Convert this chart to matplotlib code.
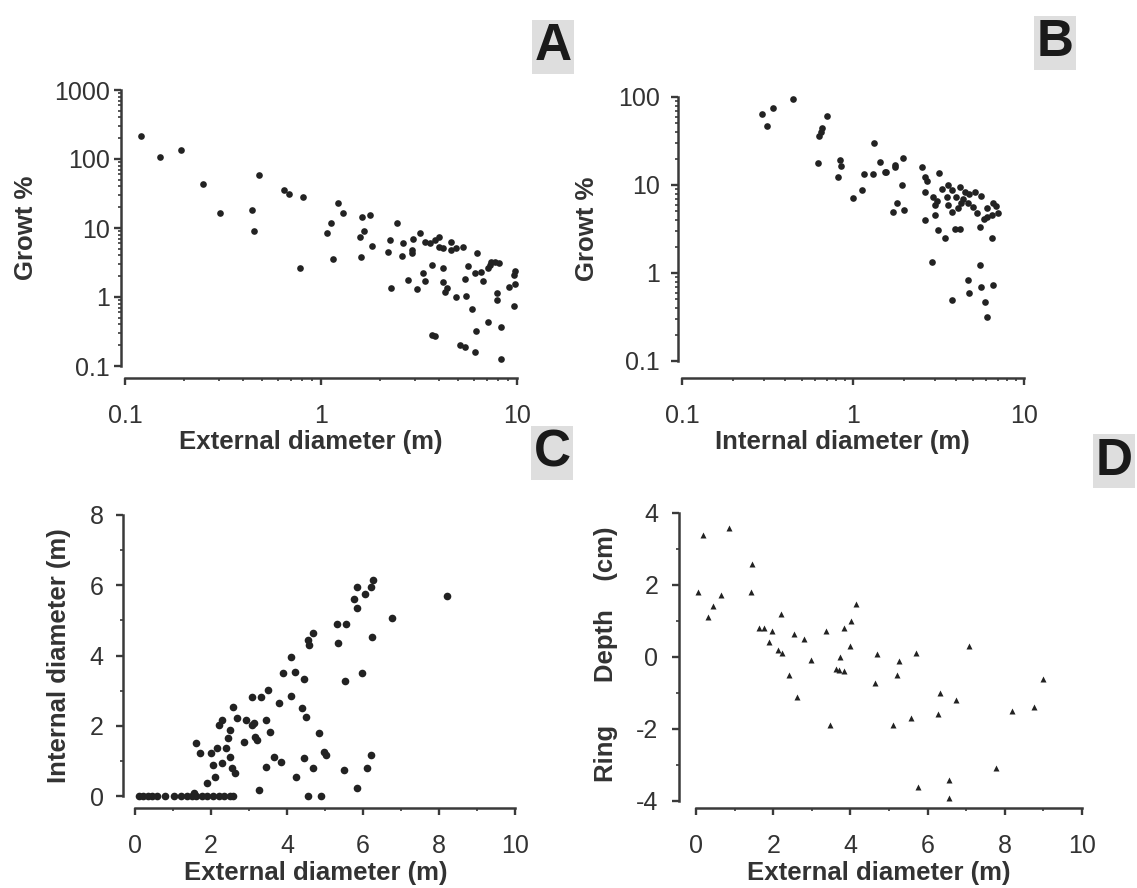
import matplotlib
matplotlib.use("Agg")
from matplotlib import pyplot as plt
from matplotlib import ticker
import numpy as np

plt.rcParams['font.family'] = ['Liberation Sans', 'DejaVu Sans']
plt.rcParams['axes.unicode_minus'] = False

# panel A: growth vs external diameter (log-log)
a_ext = [0.12, 0.151, 0.192, 0.251, 0.304, 0.447, 0.455, 0.481, 0.647, 0.69, 0.81, 0.78,
         1.22, 1.29, 1.12, 1.07, 1.15, 1.61, 1.78, 1.66, 1.58, 1.83, 1.6, 2.45, 2.25, 2.2,
         2.27, 2.62, 2.58, 2.95, 2.9, 2.92, 2.78, 3.1, 3.2, 3.4, 3.6, 3.8, 4.0, 4.0, 4.2,
         4.6, 4.6, 4.9, 5.3, 6.25, 3.3, 3.4, 3.7, 4.2, 4.2, 4.4, 4.3, 4.9, 5.5, 5.4, 5.6,
         5.9, 6.1, 6.2, 3.7, 3.8, 5.1, 5.4, 6.1, 6.55, 6.7, 7.1, 7.1, 7.4, 7.7, 7.95, 7.95,
         8.1, 8.3, 8.25, 9.1, 9.6, 9.8, 9.8, 9.6, 7.3]
a_growth = [215, 108, 135, 43, 16.7, 18.2, 8.9, 58.6, 36, 31.6, 28.4, 2.6,
            23, 16.5, 11.8, 8.5, 3.55, 14.5, 15.5, 9.1, 7.4, 5.5, 3.8, 11.8, 6.7, 4.5,
            1.35, 6.1, 3.9, 6.9, 4.8, 4.4, 1.76, 1.3, 8.5, 6.3, 6.1, 6.7, 7.4, 5.3, 5.1,
            6.3, 4.8, 5.1, 5.3, 4.4, 2.2, 1.7, 2.9, 2.6, 1.65, 1.35, 1.2, 1.0, 1.03, 1.8, 2.8,
            0.68, 2.2, 0.32, 0.28, 0.27, 0.2, 0.19, 0.16, 2.3, 1.68, 0.44, 2.6, 3.25, 3.25, 0.9, 1.16,
            3.1, 0.126, 0.37, 1.41, 0.74, 1.55, 2.4, 2.1, 2.9]

# panel B: growth vs internal diameter (log-log)
b_int = [0.292, 0.314, 0.34, 0.443, 0.708, 0.625, 0.635, 0.65, 0.66, 0.836, 0.85, 0.815,
         1.0, 1.13, 1.16, 1.31, 1.33, 1.43, 1.56, 1.77,
         1.96, 1.76, 1.54, 1.94, 1.81, 1.71, 2.0, 2.54, 2.64, 2.7, 3.18, 2.64, 2.64, 2.94,
         3.0, 3.0, 3.14, 2.9, 3.45, 3.6, 3.8, 4.2, 3.55, 4.0, 4.5, 4.8, 5.2, 3.6, 4.3, 4.7,
         5.0, 3.8, 5.3, 5.5, 3.95, 4.2, 6.1, 6.5, 6.6, 6.1, 6.5, 5.5, 4.7, 4.8, 3.8, 5.6,
         6.6, 5.9, 6.1, 3.3, 4.4, 5.6, 3.1, 4.1, 5.8, 6.9, 7.0]
b_growth = [64.6, 47, 75, 95, 61, 17.7, 35.6, 40.5, 44, 19.3, 16.6, 12.2,
            7.2, 8.8, 13.3, 13.3, 29.9, 18.2, 13.9, 16.2,
            20.3, 16.9, 14.1, 10, 6.2, 4.9, 5.2, 15.9, 12.3, 11, 13.7, 8.3, 4.0, 7.3,
            5.9, 4.6, 3.1, 1.33, 2.5, 10, 8.8, 9.6, 7.3, 7.3, 8.3, 8.0, 8.3, 5.9, 6.2, 6.2,
            5.6, 4.9, 4.8, 3.3, 3.2, 3.2, 5.5, 4.6, 6.2, 4.3, 2.5, 1.23, 0.83, 0.59, 0.49, 0.69,
            0.73, 0.47, 0.32, 9.0, 7.0, 7.5, 6.5, 5.5, 4.1, 5.8, 4.8]

# panel C: internal vs external diameter
c_ext = [0.1, 0.22, 0.34, 0.46, 0.59, 0.78, 1.02, 1.22, 1.37, 1.51, 1.61, 1.76, 1.9, 2.05,
         2.2, 2.34, 2.49, 2.59, 1.56, 4.54, 4.9, 3.27, 5.83, 1.9, 2.1, 4.24, 2.05, 2.29,
         2.54, 2.63, 3.46, 3.66, 3.85, 4.44, 4.68, 5.02, 4.98, 5.51, 6.1, 6.2, 1.61, 1.71,
         2.0, 2.15, 2.39, 2.49, 2.44, 2.49, 2.2, 2.29, 2.59, 2.68, 2.88, 2.93, 3.07, 3.17,
         3.22, 3.12, 3.07, 3.32, 3.46, 3.51, 3.56, 3.8, 3.9, 4.2, 4.1, 4.1, 4.39, 4.49,
         4.44, 4.85, 4.54, 4.59, 4.68, 5.35, 5.32, 5.56, 5.53, 5.76, 5.85, 5.85, 6.05, 6.2,
         6.27, 5.98, 6.24, 6.75, 8.21]
c_int = [0, 0, 0, 0, 0, 0, 0, 0, 0, 0, 0, 0, 0, 0,
         0, 0, 0, 0, 0.08, 0, 0, 0.17, 0.22, 0.36, 0.53, 0.53, 0.88, 0.93,
         0.79, 0.65, 0.83, 1.12, 0.98, 1.07, 0.79, 1.17, 1.26, 0.74, 0.79, 1.17, 1.5, 1.21,
         1.21, 1.36, 1.36, 1.12, 1.64, 1.88, 2.02, 2.16, 2.54, 2.21, 1.55, 2.16, 2.02, 1.69,
         1.59, 2.07, 2.83, 2.83, 2.16, 3.02, 1.83, 2.64, 3.49, 3.54, 3.97, 2.85, 2.5, 2.26,
         3.32, 1.8, 4.44, 4.3, 4.63, 4.36, 4.91, 4.91, 3.28, 5.6, 5.34, 5.96, 5.75, 5.96,
         6.15, 3.49, 4.54, 5.06, 5.7]

# panel D: ring depth vs external diameter
d_ext = [0.04, 0.17, 0.31, 0.45, 0.66, 0.85, 1.46, 1.43, 1.62, 1.75, 1.97, 1.89, 2.19, 2.13,
         2.23, 2.42, 2.53, 2.61, 2.8, 2.99, 3.36, 3.47, 3.62, 3.71, 3.84, 3.73, 3.84, 4.02,
         4.0, 4.15, 4.63, 4.7, 5.1, 5.2, 5.25, 5.57, 5.71, 5.76, 6.26, 6.32, 6.55, 6.55,
         6.74, 7.08, 7.77, 8.18, 8.75, 8.99]
d_depth = [1.81, 3.4, 1.11, 1.41, 1.71, 3.59, 2.59, 1.81, 0.81, 0.81, 0.72, 0.42, 1.2, 0.19,
           0.11, -0.51, 0.63, -1.11, 0.51, -0.09, 0.72, -1.9, -0.32, -0.37, -0.4, 0.0, 0.81, 1.0,
           0.3, 1.48, -0.71, 0.09, -1.9, -0.51, -0.11, -1.69, 0.11, -3.61, -1.59, -1.0, -3.41, -3.92,
           -1.2, 0.3, -3.07, -1.5, -1.39, -0.6]

log_ticks_a = [0.1, 1, 10, 100, 1000]
log_ticks_b = [0.1, 1, 10, 100]
log_labels_a = ['0.1', '1', '10', '100', '1000']
log_labels_b = ['0.1', '1', '10', '100']
lin_ticks_x = [0, 2, 4, 6, 8, 10]
lin_ticks_c = [0, 2, 4, 6, 8]
lin_ticks_d = [-4, -2, 0, 2, 4]

W, H = 1137, 888
TXT = '#333333'
INK = '#222222'
SPINE = '#3a3a3a'

fig = plt.figure(figsize=(W / 100, H / 100), dpi=100)


def px_axes(left, top, right, bottom):
    return fig.add_axes([left / W, 1 - bottom / H, (right - left) / W, (bottom - top) / H])


def style(ax, xoff, yoff, ypad):
    for s in ('top', 'right'):
        ax.spines[s].set_visible(False)
    ax.spines['left'].set_position(('outward', xoff * 0.72))
    ax.spines['bottom'].set_position(('outward', yoff * 0.72))
    for s in ('left', 'bottom'):
        ax.spines[s].set_linewidth(1.8)
        ax.spines[s].set_color(SPINE)
    x0, x1 = ax.get_xlim()
    y0, y1 = ax.get_ylim()
    ax.spines['bottom'].set_bounds(x0, x1)
    ax.spines['left'].set_bounds(y0, y1)
    ax.tick_params(which='major', length=5, width=1.7, color=SPINE,
                   labelsize=18, labelcolor=TXT)
    ax.tick_params(which='minor', length=2.5, width=1.2, color=SPINE)
    ax.tick_params(axis='x', which='major', pad=14)
    ax.tick_params(axis='y', which='major', pad=ypad)
    ax.set_facecolor('none')


def label(ax, xl, yl, xpos, ypos):
    ax.set_xlabel(xl, fontsize=18.5, fontweight='bold', color=TXT, va='center')
    ax.set_ylabel(yl, fontsize=18.5, fontweight='bold', color=TXT, va='center')
    ax.xaxis.set_label_coords(*xpos)
    ax.yaxis.set_label_coords(*ypos)


# A
ax = px_axes(125, 90, 517, 366)
ax.plot(a_ext, a_growth, 'o', ms=4.8, color=INK, mec='none', clip_on=False)
ax.set_xscale('log')
ax.set_yscale('log')
ax.set_xlim(0.1, 10)
ax.set_ylim(0.1, 1000)
ax.set_xticks(log_ticks_b[:3], log_labels_b[:3])
ax.set_yticks(log_ticks_a, log_labels_a)
ax.xaxis.set_minor_locator(ticker.LogLocator(subs=np.arange(2, 10)))
ax.yaxis.set_minor_locator(ticker.LogLocator(subs=np.arange(2, 10)))
ax.xaxis.set_minor_formatter(ticker.NullFormatter())
ax.yaxis.set_minor_formatter(ticker.NullFormatter())
style(ax, 4, 12, 3)
label(ax, 'External diameter (m)', 'Growt %', (0.474, -0.275), (-0.253, 0.5))

# B
ax = px_axes(682, 97, 1024, 361)
ax.plot(b_int, b_growth, 'o', ms=4.8, color=INK, mec='none', clip_on=False)
ax.set_xscale('log')
ax.set_yscale('log')
ax.set_xlim(0.1, 10)
ax.set_ylim(0.1, 100)
ax.set_xticks(log_ticks_b[:3], log_labels_b[:3])
ax.set_yticks(log_ticks_b, log_labels_b)
ax.xaxis.set_minor_locator(ticker.LogLocator(subs=np.arange(2, 10)))
ax.yaxis.set_minor_locator(ticker.LogLocator(subs=np.arange(2, 10)))
ax.xaxis.set_minor_formatter(ticker.NullFormatter())
ax.yaxis.set_minor_formatter(ticker.NullFormatter())
style(ax, 4, 17, 8)
label(ax, 'Internal diameter (m)', 'Growt %', (0.468, -0.307), (-0.278, 0.5))

# C
ax = px_axes(135, 515, 515, 796)
ax.plot(c_ext, c_int, 'o', ms=5.5, color=INK, mec='none', clip_on=False)
ax.set_xlim(0, 10)
ax.set_ylim(0, 8)
ax.set_xticks(lin_ticks_x)
ax.set_yticks(lin_ticks_c)
ax.xaxis.set_minor_locator(ticker.MultipleLocator(1))
ax.yaxis.set_minor_locator(ticker.MultipleLocator(1))
style(ax, 12, 12, 9)
label(ax, 'External diameter (m)', 'Internal diameter (m)', (0.476, -0.274), (-0.2, 0.5))

# D
ax = px_axes(696, 513, 1082, 801)
ax.plot(d_ext, d_depth, '^', ms=4.5, color=INK, mec='none', clip_on=False)
ax.set_xlim(0, 10)
ax.set_ylim(-4, 4)
ax.set_xticks(lin_ticks_x)
ax.set_yticks(lin_ticks_d)
ax.xaxis.set_minor_locator(ticker.MultipleLocator(1))
ax.yaxis.set_minor_locator(ticker.MultipleLocator(1))
style(ax, 17, 7, 10)
label(ax, 'External diameter (m)', 'Ring      Depth    (cm)', (0.474, -0.25), (-0.233, 0.51))

# panel letters in grey boxes
for letter, x, y in [('A', 553, 47), ('B', 1055, 43), ('C', 552, 453), ('D', 1114, 461)]:
    fig.text(x / W, 1 - y / H, letter, fontsize=37, fontweight='bold', color='#1a1a1a',
             ha='center', va='center',
             bbox=dict(boxstyle='square,pad=0.04', fc='#dedede', ec='none'))

fig.savefig('out.png', dpi=100)
